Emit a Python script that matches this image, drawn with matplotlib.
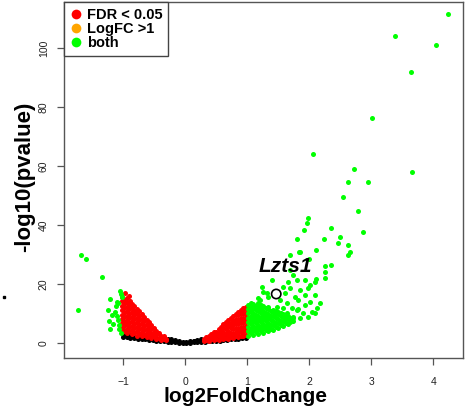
import matplotlib
matplotlib.use("Agg")
import matplotlib.pyplot as plt
from matplotlib.lines import Line2D

plt.rcParams['font.family'] = ['Liberation Sans', 'DejaVu Sans']

# ---- data: (log2FoldChange, [-log10(pvalue), ...]) ----
# dense clouds are given column by column
black_cols = [
    (-1.00, [2.1, 3.0]), (-0.94, [2.0, 2.8]), (-0.88, [1.8, 2.6]), (-0.82, [1.7, 2.4]),
    (-0.76, [1.5, 2.2]), (-0.70, [1.3, 2.0]), (-0.64, [1.2, 1.8]), (-0.58, [1.0, 1.6]),
    (-0.52, [0.9, 1.4]), (-0.46, [0.8, 1.3]), (-0.40, [0.6, 1.2, 1.8]), (-0.34, [0.5, 1.0, 1.6]),
    (-0.28, [0.4, 0.9, 1.4]), (-0.22, [0.3, 0.8, 1.2]), (-0.16, [0.2, 0.6, 0.9]),
    (-0.10, [0.1, 0.4, 0.6]), (-0.04, [0.0, 0.2]), (0.02, [0.0, 0.2]), (0.08, [0.1, 0.4, 0.6]),
    (0.14, [0.2, 0.5, 0.8]), (0.20, [0.3, 0.7, 1.1]), (0.26, [0.3, 0.8, 1.3]), (0.32, [0.4, 0.9]),
    (0.38, [0.5, 1.0]), (0.44, [0.6, 1.1]), (0.50, [0.7, 1.2]), (0.56, [0.8, 1.3]),
    (0.62, [0.9, 1.5]), (0.68, [1.0, 1.6]), (0.74, [1.2, 1.8]), (0.80, [1.3, 1.9]),
    (0.86, [1.5, 2.1]), (0.92, [1.6, 2.3]), (0.98, [1.8, 2.5]),
]

red_cols = [
    (-1.02, [3.6, 5.1, 6.6, 8.1, 9.6, 11.1, 12.6, 14.1, 15.6]),
    (-0.98, [4.2, 5.7, 7.2, 8.7, 10.2, 11.7, 13.2, 14.7]),
    (-0.94, [3.3, 4.8, 6.3, 7.8, 9.3, 10.8, 12.3, 13.8]),
    (-0.90, [3.9, 5.4, 6.9, 8.4, 9.9, 11.4, 12.9]),
    (-0.86, [2.9, 4.4, 5.9, 7.4, 8.9, 10.4, 11.9, 13.1]),
    (-0.82, [3.5, 5.0, 6.5, 8.0, 9.5, 11.0, 12.4]),
    (-0.78, [2.5, 4.0, 5.5, 7.0, 8.5, 10.0, 11.5]),
    (-0.74, [3.2, 4.7, 6.2, 7.7, 9.2, 10.7]),
    (-0.70, [2.2, 3.7, 5.2, 6.7, 8.2, 9.7]),
    (-0.66, [2.8, 4.3, 5.8, 7.3, 8.8]),
    (-0.62, [1.9, 3.4, 4.9, 6.4, 7.9]),
    (-0.58, [2.5, 4.0, 5.5, 7.0]),
    (-0.54, [1.6, 3.1, 4.6, 6.1]),
    (-0.50, [2.2, 3.7, 5.2]),
    (-0.46, [1.2, 2.7, 4.2]),
    (-0.42, [1.8, 3.3]),
    (-0.38, [1.0, 2.4]),
    (-0.34, [1.5, 2.2]),
    (-0.30, [0.9, 1.5]),
    (-0.97, [17.0]), (-0.93, [15.3]), (-0.90, [16.0]), (-0.88, [14.2]),
    (0.30, [0.6, 1.4]),
    (0.34, [1.0, 2.0]),
    (0.38, [0.7, 1.7, 2.5]),
    (0.42, [1.2, 2.3, 3.0]),
    (0.46, [0.9, 2.0, 3.1, 3.6]),
    (0.50, [1.4, 2.6, 3.8]),
    (0.54, [1.0, 2.2, 3.4, 4.7]),
    (0.58, [1.6, 2.9, 4.2, 5.5]),
    (0.62, [1.2, 2.5, 3.8, 5.1, 6.3]),
    (0.66, [1.8, 3.2, 4.6, 6.0, 7.0]),
    (0.70, [1.4, 2.8, 4.2, 5.6, 7.0, 7.8]),
    (0.74, [2.0, 3.5, 5.0, 6.5, 8.0, 8.6]),
    (0.78, [1.6, 3.1, 4.6, 6.1, 7.6, 9.1]),
    (0.82, [2.2, 3.7, 5.2, 6.7, 8.2, 9.7]),
    (0.86, [1.9, 3.4, 4.9, 6.4, 7.9, 9.4, 10.6]),
    (0.90, [2.5, 4.0, 5.5, 7.0, 8.5, 10.0, 11.2]),
    (0.94, [2.2, 3.7, 5.2, 6.7, 8.2, 9.7, 11.2, 11.8]),
    (0.98, [2.8, 4.3, 5.8, 7.3, 8.8, 10.3, 11.8, 12.3]),
]

green_cols = [
    (1.02, [2.5, 4.0, 5.5, 7.0, 8.5, 10.0, 11.5, 13.0]),
    (1.06, [3.3, 4.8, 6.3, 7.8, 9.3, 10.8, 12.3, 13.5]),
    (1.10, [2.8, 4.3, 5.8, 7.3, 8.8, 10.3, 11.8, 13.3]),
    (1.14, [3.6, 5.1, 6.6, 8.1, 9.6, 11.1, 12.6]),
    (1.18, [3.2, 4.7, 6.2, 7.7, 9.2, 10.7, 12.2, 13.4]),
    (1.22, [4.0, 5.5, 7.0, 8.5, 10.0, 11.5, 13.0]),
    (1.26, [3.5, 5.0, 6.5, 8.0, 9.5, 11.0, 12.5]),
    (1.30, [4.3, 5.8, 7.3, 8.8, 10.3, 11.8]),
    (1.34, [3.9, 5.4, 6.9, 8.4, 9.9, 11.4, 12.1]),
    (1.38, [4.7, 6.2, 7.7, 9.2, 10.7]),
    (1.42, [4.5, 6.0, 7.5, 9.0, 10.5, 11.3]),
    (1.46, [5.3, 6.8, 8.3, 9.8, 10.9]),
    (1.50, [5.2, 6.7, 8.2, 9.7, 10.5]),
    (1.54, [6.0, 7.5, 9.0, 10.1]),
    (1.58, [5.8, 7.3, 8.8, 9.7]),
    (1.62, [6.6, 8.1, 9.4]),
    (1.66, [6.5, 8.0, 9.1]),
    (1.70, [7.2, 8.6]),
    (1.74, [7.4, 8.4]),
]

# scattered green genes, read one by one
green_x = [4.24, 3.39, 4.05, 3.65, 3.02, 2.07, 2.73, 3.66, 2.62, 2.95, 2.55, 2.78, 2.87,
           1.98, 1.97, 1.91, 2.35, 1.81, 2.24, 2.49, 2.47, 2.63, 1.83, 2.11, 1.70, 2.66,
           2.63, 2.0, 2.25, 2.36, 2.25, 2.26, 2.11, 2.02,
           1.85, 1.69, 1.74, 1.80, 1.66, 1.94, 2.10, 1.24, 1.40, 1.58, 1.69, 1.85, 1.98,
           1.61, 1.77, 1.94, 2.10, 1.82, 2.02, 2.18, 2.13, 2.05, 1.90, 1.80, 1.26, 1.34,
           1.21, 1.53, 1.65, 1.48, 1.58, 1.73, 1.65, 1.74, 1.85, 1.98, 2.10, 1.32, 1.18,
           1.94, 1.82,
           -1.68, -1.60, -1.34, -1.73, -1.21, -1.03, -1.10, -1.08, -1.24, -1.13, -1.23,
           -1.08, -1.21, -1.06, -1.03, -1.06, -1.18, -1.05, -1.02, -1.12, -1.16, -1.10]
green_y = [111.5, 104.0, 101.0, 91.9, 76.2, 64.0, 59.0, 58.0, 54.7, 54.7, 49.4, 44.8, 37.5,
           42.5, 40.8, 38.3, 39.1, 35.3, 35.3, 36.0, 33.8, 33.2, 30.8, 31.6, 29.7, 30.9,
           29.7, 28.6, 26.1, 26.4, 24.2, 22.1, 21.6, 19.6,
           30.8, 24.7, 23.0, 21.4, 20.7, 21.4, 20.7, 19.0, 21.4, 19.0, 18.6, 18.0, 18.6,
           17.0, 15.6, 16.3, 16.3, 14.6, 13.9, 13.6, 11.9, 10.5, 10.2, 11.2, 17.3, 15.6,
           14.6, 14.6, 13.6, 12.2, 11.9, 11.9, 10.2, 8.8, 8.5, 8.8, 10.2, 17.0, 15.3,
           12.9, 11.5,
           29.8, 28.5, 22.4, 11.2, 15.0, 16.6, 13.9, 13.6, 11.2, 10.5, 7.5,
           7.8, 4.7, 4.7, 3.4, 6.1, 9.5, 17.5, 15.5, 12.5, 6.5, 9.0]

gene_label = "Lzts1"
gene_x, gene_y = 1.47, 16.6

legend_labels = ['FDR < 0.05', 'LogFC >1', 'both']
legend_colors = ['#ff0000', '#ffa500', '#00ff00']


def flatten(cols):
    xs, ys = [], []
    for x, col in cols:
        xs += [x] * len(col)
        ys += col
    return xs, ys


bx, by = flatten(black_cols)
rx, ry = flatten(red_cols)
gx, gy = flatten(green_cols)
gx += green_x
gy += green_y

fig = plt.figure(figsize=(4.72, 4.12), dpi=100)
ax = fig.add_axes([64 / 472, 1 - 358 / 412, 399 / 472, 356 / 412])

ax.scatter(bx, by, s=13, c='black', linewidths=0, zorder=2)
ax.scatter(rx, ry, s=13, c='#ff0000', linewidths=0, zorder=3)
ax.scatter(gx, gy, s=13, c='#00ff00', linewidths=0, zorder=4)

ax.scatter([gene_x], [gene_y], s=45, facecolors='none', edgecolors='black', linewidths=1.2, zorder=5)
ax.text(gene_x + 0.14, gene_y + 9.2, gene_label, fontsize=15, fontweight='bold', style='italic',
        ha='center', va='center', zorder=6)

ax.set_xlim(-1.95, 4.48)
ax.set_ylim(-5.1, 115.6)
ax.set_xticks([-1, 0, 1, 2, 3, 4])
ax.set_xticklabels(['\u22121', '0', '1', '2', '3', '4'])
ax.set_yticks([0, 20, 40, 60, 80, 100])
for lbl in ax.get_yticklabels():
    lbl.set_rotation(90)
    lbl.set_va('center')
ax.tick_params(axis='both', length=5, width=0.9, color='#555555', labelsize=7.5, labelcolor='#222222')
ax.tick_params(axis='x', pad=9)
ax.tick_params(axis='y', pad=6)
for s in ax.spines.values():
    s.set_color('#555555')
    s.set_linewidth(1.0)

ax.set_xlabel('log2FoldChange', fontsize=15, fontweight='bold')
ax.xaxis.set_label_coords(0.454, -0.107)
ax.xaxis.label.set_va('center')
ax.set_ylabel('-log10(pvalue)', fontsize=16, fontweight='bold')
ax.yaxis.set_label_coords(-0.098, 0.508)
ax.yaxis.label.set_va('center')

handles = [Line2D([], [], ls='none', marker='o', ms=7, mec='none', mfc=c) for c in legend_colors]
leg = ax.legend(handles, legend_labels, loc='upper left', borderaxespad=0,
                fancybox=False, framealpha=1, edgecolor='#444444', prop={'weight': 'bold', 'size': 10.5},
                handlelength=0.8, handletextpad=0.35, labelspacing=0.0, borderpad=0.4)
leg.get_frame().set_linewidth(1.0)
leg.set_zorder(10)

# stray dot at the far left of the original image
fig.add_artist(Line2D([4 / 472], [1 - 297 / 412], marker='s', ms=2, color='black', transform=fig.transFigure))

fig.savefig('out.png', dpi=100)
